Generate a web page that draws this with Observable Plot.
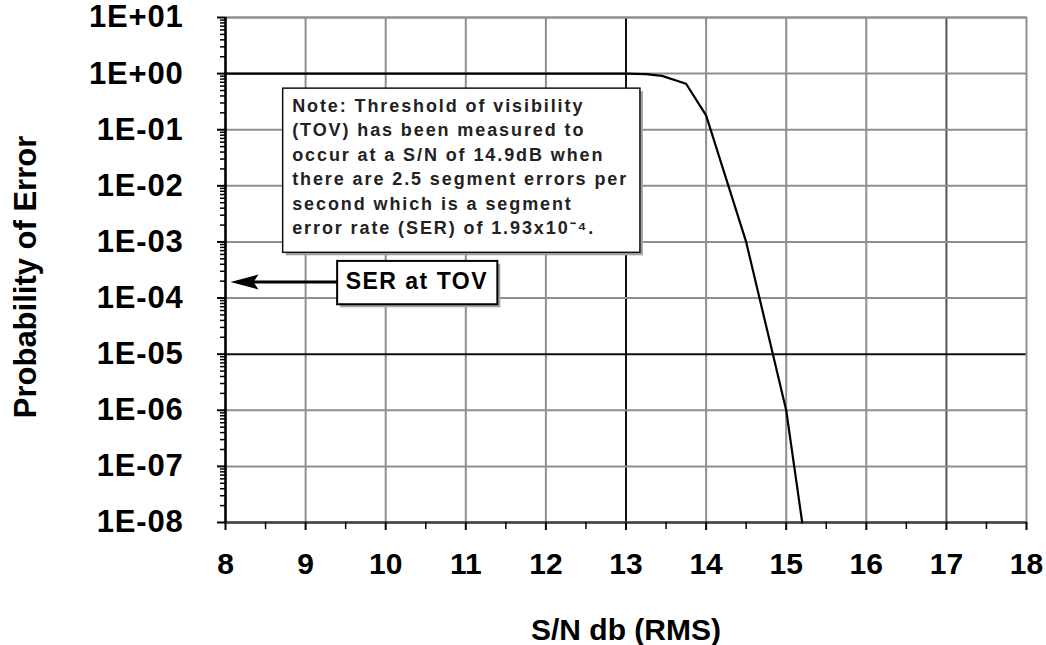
<!DOCTYPE html>
<html>
<head>
<meta charset="utf-8">
<script src="https://cdn.jsdelivr.net/npm/d3@7"></script>
<script src="https://cdn.jsdelivr.net/npm/@observablehq/plot@0.6"></script>
<style>
  html, body { margin: 0; padding: 0; background: #fff; }
  #chart { width: 1046px; height: 645px; }
</style>
</head>
<body>
<div id="chart"></div>
<script>
// ---- data ----
const snrDb = [8, 13, 13.25, 13.45, 13.75, 14, 14.5, 15, 15.2];
const probError = [1, 1, 0.98, 0.91, 0.66, 0.18, 1e-3, 1e-6, 1e-8];

const xTickValues = [8, 9, 10, 11, 12, 13, 14, 15, 16, 17, 18];
const xTickLabels = ["8", "9", "10", "11", "12", "13", "14", "15", "16", "17", "18"];
const xMinorTicks = [8.5, 9.5, 10.5, 11.5, 12.5, 13.5, 14.5, 15.5, 16.5, 17.5];
const yTickValues = [10, 1, 1e-1, 1e-2, 1e-3, 1e-4, 1e-5, 1e-6, 1e-7, 1e-8];
const yTickLabels = ["1E+01", "1E+00", "1E-01", "1E-02", "1E-03", "1E-04", "1E-05", "1E-06", "1E-07", "1E-08"];

const xTitle = "S/N db (RMS)";
const yTitle = "Probability of Error";

const serAtTov = 1.93e-4;
const serLabel = "SER at TOV";
const noteText = "Note: Threshold of visibility\n(TOV) has been measured to\noccur at a S/N of 14.9dB when\nthere are 2.5 segment errors per\nsecond which is a segment\nerror rate (SER) of 1.93x10\u207B\u2074.";

// annotation anchors (data space)
const noteBox = [{x1: 8.72, x2: 13.18, y1: 0.54, y2: 6.4e-4}];
const serBox = [{x1: 9.40, x2: 11.40, y1: 4.5e-4, y2: 7.6e-5}];
const arrowFrom = 9.40;

// ---- derived ----
const curve = snrDb.map((x, i) => ({x, y: probError[i]}));
const xLabelMap = new Map(xTickValues.map((v, i) => [v, xTickLabels[i]]));
const yLabelMap = new Map(yTickValues.map((v, i) => [v, yTickLabels[i]]));
const yMinorTicks = [];
for (let k = -8; k <= 0; k++) for (let m = 2; m <= 9; m++) yMinorTicks.push(m * Math.pow(10, k));

const arrowHead = {
  draw(ctx) {
    ctx.moveTo(0, 0);
    ctx.lineTo(28, -7.5);
    ctx.lineTo(23, 0);
    ctx.lineTo(28, 7.5);
    ctx.closePath();
  }
};

const gridColor = "#8e8e8e";
const font = "'Liberation Sans', Arial, Helvetica, sans-serif";

const chart = Plot.plot({
  width: 1046,
  height: 645,
  marginLeft: 225,
  marginRight: 20,
  marginTop: 17,
  marginBottom: 123,
  x: {domain: [8, 18]},
  y: {type: "log", domain: [1e-8, 10]},
  style: {fontFamily: font, background: "#fff", color: "#000"},
  marks: [
    Plot.gridX(xTickValues.filter(d => d > 8 && d < 18 && d !== 13 && d !== 17), {stroke: gridColor, strokeOpacity: 1, strokeWidth: 2}),
    Plot.gridX([17], {stroke: "#555", strokeOpacity: 1, strokeWidth: 2}),
    Plot.gridX([13], {stroke: "#111", strokeOpacity: 1, strokeWidth: 2}),
    Plot.gridY(yTickValues.filter(d => d !== 1e-5), {stroke: gridColor, strokeOpacity: 1, strokeWidth: 2}),
    Plot.gridY([1e-5], {stroke: "#111", strokeOpacity: 1, strokeWidth: 2}),
    Plot.frame({stroke: gridColor, strokeWidth: 2}),
    Plot.ruleY([1e-8], {stroke: "#444", strokeWidth: 2.5}),
    Plot.ruleX([8], {stroke: "#000", strokeWidth: 2.5}),
    // axes
    Plot.axisY(yMinorTicks, {anchor: "left", tickSize: 5, tickFormat: () => "", label: null, strokeWidth: 1.5}),
    Plot.axisY(yTickValues, {anchor: "left", tickSize: 8, tickPadding: 34, tickFormat: d => yLabelMap.get(d), label: null,
      fontSize: 31, fontWeight: "bold", strokeWidth: 2}),
    Plot.axisX(xMinorTicks, {anchor: "bottom", tickSize: 7, tickFormat: () => "", label: null, strokeWidth: 1.5}),
    Plot.axisX(xTickValues, {anchor: "bottom", tickSize: 8, tickPadding: 22, tickFormat: d => xLabelMap.get(d), label: null,
      fontSize: 30, fontWeight: "bold", strokeWidth: 2}),
    // titles
    Plot.text([xTitle], {frameAnchor: "bottom", dy: 108, lineAnchor: "middle", fontSize: 30, fontWeight: "bold", fill: "#000"}),
    Plot.text([yTitle], {frameAnchor: "left", rotate: -90, dx: -199, dy: 7, textAnchor: "middle", lineAnchor: "middle",
      fontSize: 31, fontWeight: "bold", fill: "#000"}),
    // curve
    Plot.line(curve, {x: "x", y: "y", stroke: "#000", strokeWidth: 2.2}),
    // note box
    Plot.rect(noteBox, {x1: "x1", x2: "x2", y1: "y1", y2: "y2", dx: 3, dy: 3, fill: "#a3a3a3"}),
    Plot.rect(noteBox, {x1: "x1", x2: "x2", y1: "y1", y2: "y2", fill: "#fff", stroke: "#111", strokeWidth: 1.5}),
    Plot.text([noteText], {x: noteBox[0].x1, y: noteBox[0].y1, dx: 9, dy: 6, textAnchor: "start", lineAnchor: "top",
      lineHeight: 1.36, fontSize: 18, fontWeight: "bold", fill: "#222"}),
    // SER box + arrow
    Plot.rect(serBox, {x1: "x1", x2: "x2", y1: "y1", y2: "y2", dx: 3, dy: 3, fill: "#a3a3a3"}),
    Plot.rect(serBox, {x1: "x1", x2: "x2", y1: "y1", y2: "y2", fill: "#fff", stroke: "#000", strokeWidth: 2}),
    Plot.text([serLabel], {x: serBox[0].x1, y: serAtTov, dx: 8, textAnchor: "start", lineAnchor: "middle",
      fontSize: 23, fontWeight: "bold", fill: "#000"}),
    Plot.ruleY([serAtTov], {x1: 8.2, x2: arrowFrom, stroke: "#000", strokeWidth: 3}),
    Plot.dot([serAtTov], {x: 8, y: d => d, dx: 5, symbol: arrowHead, fill: "#000", stroke: "none", r: 5})
  ]
});

// letter spacing to match the reference's wide bold face
d3.select(chart).selectAll("text").each(function() {
  const t = this.textContent;
  if (t.startsWith("Note:")) this.setAttribute("letter-spacing", "1.9");
  else if (t === serLabel) this.setAttribute("letter-spacing", "1.5");
  else if (yTickLabels.includes(t)) this.setAttribute("letter-spacing", "0.8");
});

document.getElementById("chart").appendChild(chart);
</script>
</body>
</html>
